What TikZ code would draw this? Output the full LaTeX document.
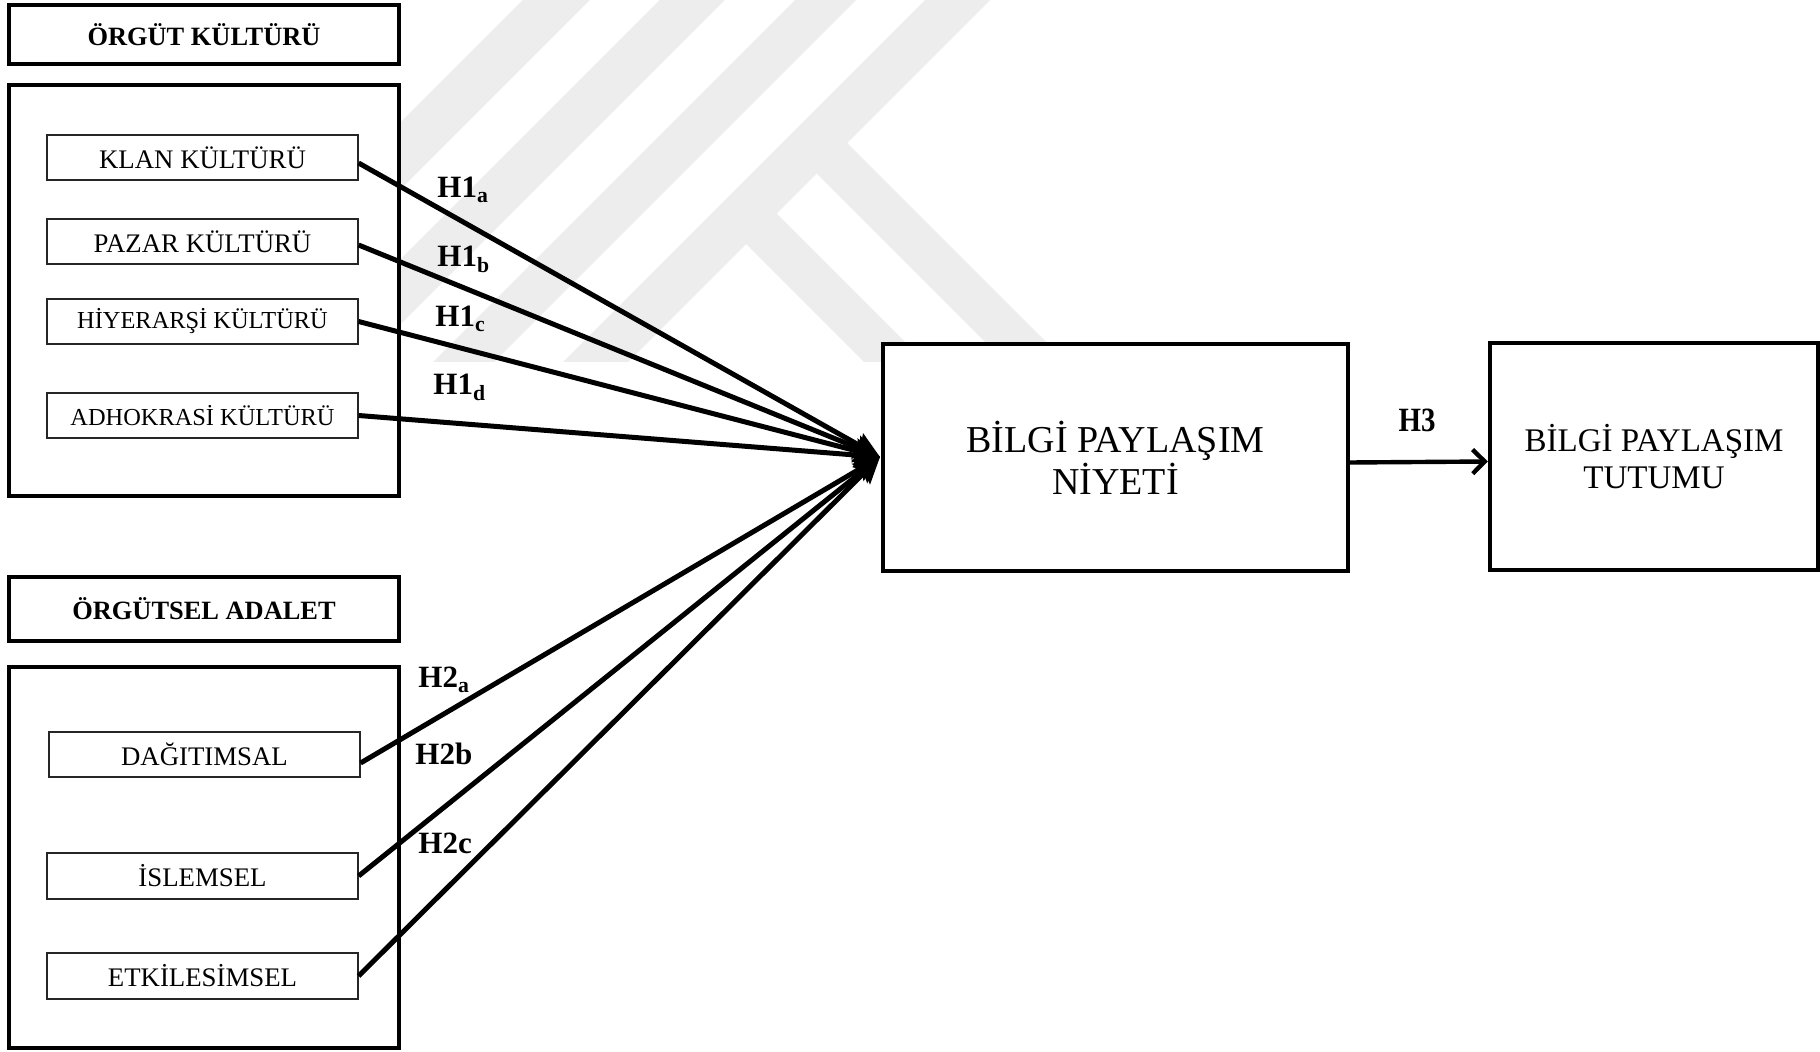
\documentclass[tikz,border=0pt]{standalone}
\usepackage{fontspec}
\setmainfont{Liberation Serif}
\usetikzlibrary{arrows.meta}
\begin{document}
\begin{tikzpicture}[x=0.5pt,y=-0.5pt,
  hdr/.style={draw, line width=2pt, minimum width=195pt, inner sep=0pt, font=\fontsize{13.2}{15}\selectfont\bfseries},
  cont/.style={draw, line width=2pt, inner sep=0pt, minimum width=195pt},
  subbox/.style={draw=black!85, fill=white, line width=0.6pt, minimum width=155.5pt, minimum height=22.5pt, inner sep=0pt, font=\fontsize{13.4}{15}\selectfont},
  smalltext/.style={font=\fontsize{12.2}{14}\selectfont},
  bigbox/.style={draw, fill=white, line width=2.2pt, inner sep=0pt, align=center, minimum height=113.5pt},
  conn/.style={line width=2.5pt, -{Stealth[length=13pt,width=12pt,inset=2pt]}},
  hlab/.style={anchor=base west, inner sep=0pt, font=\fontsize{15.5}{18}\selectfont\bfseries},
  wm/.style={fill=black!7},
]
\useasboundingbox[fill=white] (0,0) rectangle (1820,1052);

% faint watermark stripes
\begin{scope}
\clip (399,0) rectangle (1100,362);
\fill[wm] (523,0) -- (590,0) -- (228,362) -- (161,362) -- cycle;
\fill[wm] (660,0) -- (725,0) -- (363,362) -- (298,362) -- cycle;
\fill[wm] (795,0) -- (856,0) -- (494,362) -- (433,362) -- cycle;
\fill[wm] (925,0) -- (990,0) -- (628,362) -- (563,362) -- cycle;
\fill[wm] (731,229) -- (761.5,198.5) -- (925,362) -- (864,362) -- cycle;
\fill[wm] (801.5,158.5) -- (832,128) -- (1066,362) -- (1005,362) -- cycle;
\end{scope}

% left groups
\node[hdr, minimum height=29.5pt] (h1) at (204,34.5) {ÖRGÜT KÜLTÜRÜ};
\node[cont, minimum height=205.5pt] (c1) at (204,290.5) {};
\node[hdr, minimum height=32pt] (h2) at (204,609) {ÖRGÜTSEL ADALET};
\node[cont, minimum height=190.5pt] (c2) at (204,857.5) {};

\node[subbox] (klan) at (202.5,157.5) {KLAN KÜLTÜRÜ};
\node[subbox] (pazar) at (202.5,241.5) {PAZAR KÜLTÜRÜ};
\node[subbox, smalltext] (hiyer) at (202.5,321.5) {HİYERARŞİ KÜLTÜRÜ};
\node[subbox, smalltext] (adhok) at (202.5,415.5) {ADHOKRASİ KÜLTÜRÜ};
\node[subbox] (dagit) at (204.5,754.5) {DAĞITIMSAL};
\node[subbox, minimum height=23pt] (islem) at (202.5,876) {İSLEMSEL};
\node[subbox, minimum height=23pt] (etkil) at (202.5,976) {ETKİLESİMSEL};

% right boxes
\node[bigbox, minimum width=232.5pt, font=\fontsize{19}{21}\selectfont] (niyet) at (1115.5,457.5) {BİLGİ PAYLAŞIM\\NİYETİ};
\node[bigbox, minimum width=164pt, font=\fontsize{16.5}{18.5}\selectfont] (tutum) at (1654,456.5) {BİLGİ PAYLAŞIM\\TUTUMU};

\coordinate (tip) at (880,457);

% connectors
\draw[conn] ([yshift=-2.75pt]klan.east) -- (tip);
\draw[conn] ([yshift=-1.75pt]pazar.east) -- (tip);
\draw[conn] (hiyer.east) -- (tip);
\draw[conn] (adhok.east) -- (tip);
\draw[conn] ([yshift=-4.25pt]dagit.east) -- (tip);
\draw[conn] (islem.east) -- (tip);
\draw[conn] (etkil.east) -- (tip);

\draw[line width=2.2pt, -{Straight Barb[length=6pt,width=12pt]}] ([yshift=-2.5pt]niyet.east) -- ([yshift=-2.5pt]tutum.west);

% labels
\node[hlab] (l1a) at (437,198) {H1\textsubscript{a}};
\node[hlab] (l1b) at (437,267) {H1\textsubscript{b}};
\node[hlab] (l1c) at (435,327) {H1\textsubscript{c}};
\node[hlab] (l1d) at (433,395) {H1\textsubscript{d}};
\node[hlab] (l2a) at (418,688) {H2\textsubscript{a}};
\node[hlab] (l2b) at (415,764) {H2b};
\node[hlab] (l2c) at (418,853) {H2c};
\node[anchor=base, inner sep=0pt, font=\fontsize{17}{18}\selectfont\bfseries] (l3) at (1417,432) {\scalebox{0.85}[1]{H3}};
\end{tikzpicture}
\end{document}
